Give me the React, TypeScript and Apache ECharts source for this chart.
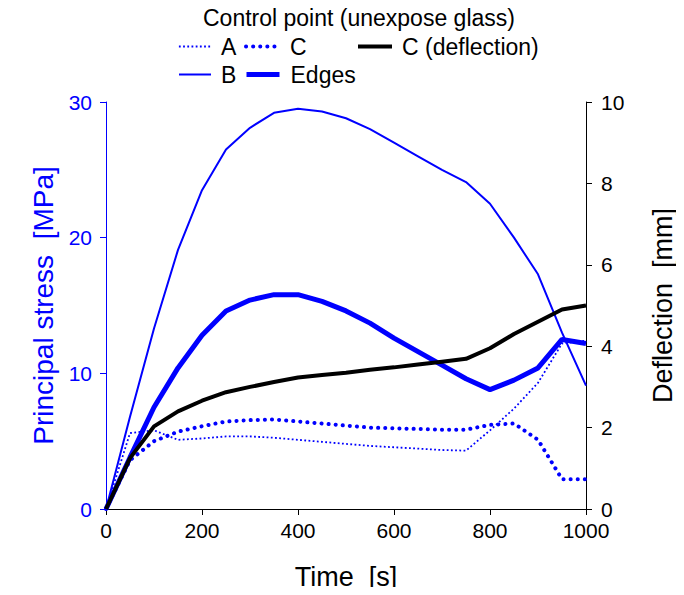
import React, { useEffect, useRef } from "react";
import * as echarts from "echarts";

const time = [0, 50, 100, 150, 200, 250, 300, 350, 400, 450, 500, 550, 600, 650, 700, 750, 800, 850, 900, 950, 1000];
const stressA = [0, 5.6, 5.8, 5.1, 5.2, 5.35, 5.35, 5.25, 5.1, 4.95, 4.8, 4.65, 4.55, 4.45, 4.35, 4.3, 5.8, 7.4, 9.3, 12.2, 12.4];
const stressB = [0, 6.8, 13.3, 19.1, 23.5, 26.5, 28.1, 29.2, 29.5, 29.3, 28.8, 28.0, 27.0, 26.0, 25.0, 24.1, 22.5, 20.0, 17.3, 13.0, 9.1];
const stressC = [0, 3.6, 5.0, 5.7, 6.1, 6.45, 6.55, 6.6, 6.45, 6.3, 6.15, 6.0, 5.95, 5.9, 5.85, 5.85, 6.2, 6.3, 5.1, 2.2, 2.2];
const stressEdges = [0, 3.8, 7.5, 10.4, 12.8, 14.6, 15.4, 15.8, 15.8, 15.3, 14.6, 13.7, 12.6, 11.6, 10.6, 9.6, 8.8, 9.5, 10.4, 12.5, 12.2];
const deflectionC = [0, 1.25, 2.03, 2.4, 2.66, 2.87, 3.0, 3.12, 3.23, 3.29, 3.35, 3.42, 3.48, 3.55, 3.62, 3.69, 3.95, 4.3, 4.6, 4.9, 5.0];

const xTicks = [0, 200, 400, 600, 800, 1000];
const leftTicks = [0, 10, 20, 30];
const rightTicks = [0, 2, 4, 6, 8, 10];

const FONT = "Liberation Sans";
const BLUE = "#0000ff";

const pair = (ys: number[]) => time.map((t, i) => [t, ys[i]]);

const styleA = { color: BLUE, width: 1.8, type: [1.8, 2.4] };
const styleC = { color: BLUE, width: 4, type: [0.1, 7], cap: "round" };
const styleDefl = { color: "#000", width: 4 };
const styleB = { color: BLUE, width: 2 };
const styleEdges = { color: BLUE, width: 5 };

export default function App() {
  const ref = useRef<HTMLDivElement>(null);
  useEffect(() => {
    if (!ref.current) return;
    const chart = echarts.init(ref.current, undefined, { renderer: "svg" });
    const mkLegend = (name: string, left: number, top: number, w: number, pad: number, ls: any) => ({
      data: [name],
      left,
      top,
      itemWidth: w,
      itemHeight: 16,
      itemGap: 0,
      padding: 0,
      itemStyle: { opacity: 0 },
      lineStyle: { ...ls },
      textStyle: { fontFamily: FONT, fontSize: 23, color: "#000", padding: [0, 0, 0, pad] },
      selectedMode: false,
    });
    chart.setOption({
      animation: false,
      backgroundColor: "#fff",
      title: {
        text: "Control point (unexpose glass)",
        left: 203,
        top: 6,
        padding: 0,
        textStyle: { fontFamily: FONT, fontSize: 23, fontWeight: "normal", color: "#000" },
      },
      legend: [
        mkLegend("A", 178, 35, 32, 5, styleA),
        mkLegend("C", 244, 35, 32, 7, styleC),
        mkLegend("C (deflection)", 356, 35, 34, 5, styleDefl),
        mkLegend("B", 178, 63, 32, 5, styleB),
        mkLegend("Edges", 244, 63, 33, 6, styleEdges),
      ],
      grid: { left: 106, right: 86, top: 102, bottom: 84 },
      xAxis: {
        type: "value",
        min: 0,
        max: 1000,
        interval: 200,
        name: "Time  [s]",
        nameLocation: "middle",
        nameGap: 54,
        nameTextStyle: { fontFamily: FONT, fontSize: 27, color: "#000" },
        axisLine: { show: true, lineStyle: { color: "#000", width: 1 } },
        axisTick: { show: true, inside: false, length: 6, lineStyle: { color: "#000" } },
        axisLabel: {
          fontFamily: FONT,
          fontSize: 21,
          color: "#000",
          margin: 11,
          formatter: (v: number) => (xTicks.includes(v) ? String(v) : ""),
        },
        splitLine: { show: false },
      },
      yAxis: [
        {
          type: "value",
          position: "left",
          min: 0,
          max: 30,
          interval: 10,
          name: "Principal stress  [MPa]",
          nameLocation: "middle",
          nameRotate: 90,
          nameGap: 48,
          nameTextStyle: { fontFamily: FONT, fontSize: 28, color: BLUE },
          axisLine: { show: true, lineStyle: { color: BLUE, width: 1 } },
          axisTick: { show: true, inside: false, length: 6, lineStyle: { color: BLUE } },
          axisLabel: {
            fontFamily: FONT,
            fontSize: 21,
            color: BLUE,
            margin: 14,
            formatter: (v: number) => (leftTicks.includes(v) ? String(v) : ""),
          },
          splitLine: { show: false },
        },
        {
          type: "value",
          position: "right",
          min: 0,
          max: 10,
          interval: 2,
          name: "Deflection  [mm]",
          nameLocation: "middle",
          nameRotate: 90,
          nameGap: 63,
          nameTextStyle: { fontFamily: FONT, fontSize: 27, color: "#000" },
          axisLine: { show: true, lineStyle: { color: "#000", width: 1 } },
          axisTick: { show: true, inside: false, length: 6, lineStyle: { color: "#000" } },
          axisLabel: {
            fontFamily: FONT,
            fontSize: 21,
            color: "#000",
            margin: 15,
            formatter: (v: number) => (rightTicks.includes(v) ? String(v) : ""),
          },
          splitLine: { show: false },
        },
      ],
      series: [
        {
          name: "A",
          type: "line",
          yAxisIndex: 0,
          data: pair(stressA),
          symbol: "none",
          lineStyle: styleA,
          itemStyle: { color: BLUE },
          z: 3,
        },
        {
          name: "C",
          type: "line",
          yAxisIndex: 0,
          data: pair(stressC),
          symbol: "none",
          lineStyle: styleC,
          itemStyle: { color: BLUE },
          z: 3,
        },
        {
          name: "C (deflection)",
          type: "line",
          yAxisIndex: 1,
          data: pair(deflectionC),
          symbol: "none",
          lineStyle: styleDefl,
          itemStyle: { color: "#000" },
          z: 4,
        },
        {
          name: "B",
          type: "line",
          yAxisIndex: 0,
          data: pair(stressB),
          symbol: "none",
          lineStyle: styleB,
          itemStyle: { color: BLUE },
          z: 3,
        },
        {
          name: "Edges",
          type: "line",
          yAxisIndex: 0,
          data: pair(stressEdges),
          symbol: "none",
          lineStyle: styleEdges,
          itemStyle: { color: BLUE },
          z: 3,
        },
      ],
    });
    return () => chart.dispose();
  }, []);
  return <div ref={ref} style={{ width: 684, height: 595, margin: -8 }} />;
}
